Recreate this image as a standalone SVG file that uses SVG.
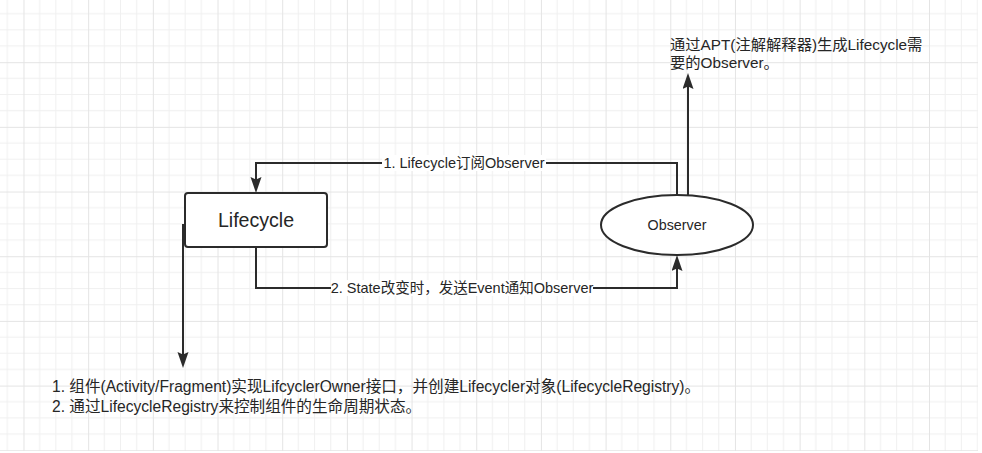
<svg xmlns="http://www.w3.org/2000/svg" width="982" height="453" viewBox="0 0 982 453">
  <defs>
    <pattern id="grid" patternUnits="userSpaceOnUse" x="-41.2" y="-2.5" width="64.68" height="64.68">
      <path d="M16.17,0 V64.68 M32.34,0 V64.68 M48.51,0 V64.68 M0,16.17 H64.68 M0,32.34 H64.68 M0,48.51 H64.68" stroke="#f0f0f0" stroke-width="1" fill="none"/>
      <path d="M0.5,0 V64.68 M0,0.5 H64.68" stroke="#e4e4e4" stroke-width="1" fill="none"/>
    </pattern>
    <marker id="arrow" markerUnits="userSpaceOnUse" markerWidth="17" markerHeight="12" refX="12" refY="5.5" orient="auto">
      <path d="M0,0 L16,5.5 L0,11 L2.5,5.5 z" fill="#2b2b2b"/>
    </marker>
    <style>
      .edge { fill: none; stroke: #2b2b2b; stroke-width: 2; }
      .node { fill: #ffffff; stroke: #2b2b2b; stroke-width: 2; }
      .txt { font-family: "Liberation Sans", "Noto Sans CJK SC", sans-serif; fill: #262626; }
      .lbl-bg { fill: #ffffff; }
    </style>
  </defs>

  <rect x="0" y="0" width="982" height="453" fill="#ffffff"/>
  <rect x="0" y="0" width="978" height="451" fill="url(#grid)"/>

  <g id="connectors">
    <path class="edge" d="M677,195 V163 H256 V189" marker-end="url(#arrow)"/>
    <path class="edge" d="M256,247 V288 H677 V259" marker-end="url(#arrow)"/>
    <path class="edge" d="M688,195 V77" marker-end="url(#arrow)"/>
    <path class="edge" d="M183,224 V364" marker-end="url(#arrow)"/>
    <g id="label-1">
      <rect class="lbl-bg" x="382" y="155" width="164" height="16"/>
      <text class="txt" x="464" y="168" font-size="14.5" text-anchor="middle">1. Lifecycle订阅Observer</text>
    </g>
    <g id="label-2">
      <rect class="lbl-bg" x="331" y="280" width="262" height="16"/>
      <text class="txt" x="462" y="293" font-size="14.5" text-anchor="middle">2. State改变时，发送Event通知Observer</text>
    </g>
  </g>

  <g id="lifecycle">
    <rect class="node" x="185" y="193" width="142" height="54" rx="3" ry="3"/>
    <text class="txt" x="256" y="227" font-size="19.6" text-anchor="middle">Lifecycle</text>
  </g>

  <g id="observer">
    <ellipse class="node" cx="677" cy="225" rx="76" ry="30"/>
    <text class="txt" x="677" y="230" font-size="14.3" text-anchor="middle">Observer</text>
  </g>

  <g id="apt-note">
    <text class="txt" x="670" y="50" font-size="15.3">通过APT(注解解释器)生成Lifecycle需</text>
    <text class="txt" x="670" y="68" font-size="15.3">要的Observer。</text>
  </g>

  <g id="component-note">
    <text class="txt" x="52" y="392" font-size="15.6">1. 组件(Activity/Fragment)实现LifcyclerOwner接口，并创建Lifecycler对象(LifecycleRegistry)。</text>
    <text class="txt" x="52" y="412" font-size="15.6">2. 通过LifecycleRegistry来控制组件的生命周期状态。</text>
  </g>
</svg>
